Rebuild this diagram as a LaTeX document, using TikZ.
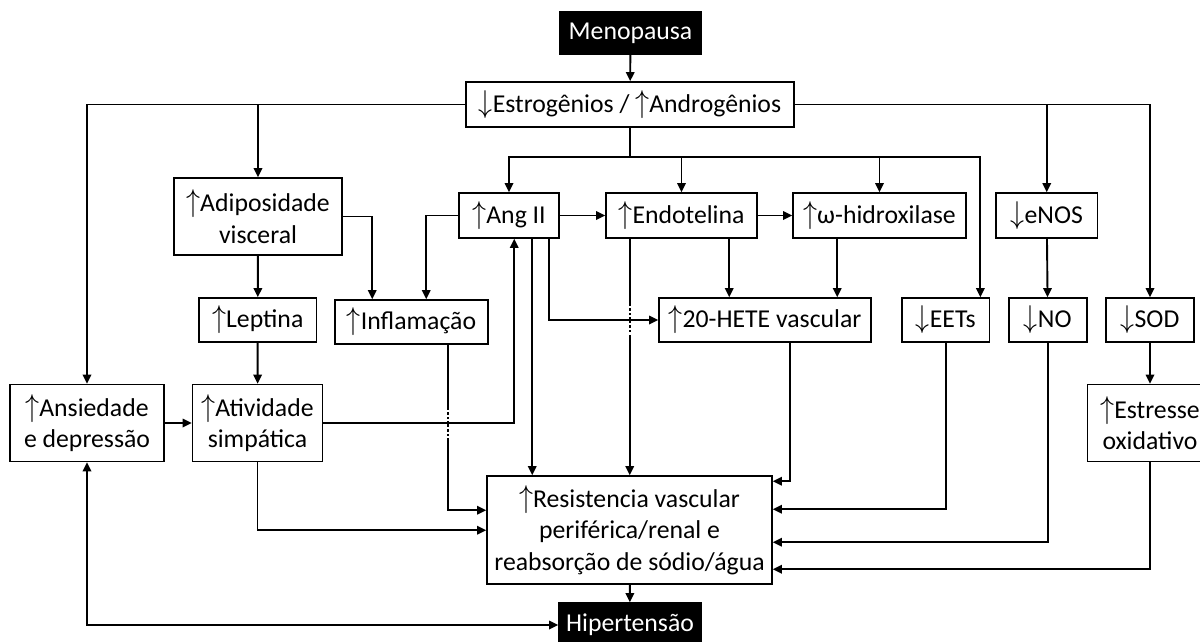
\documentclass[tikz,border=0pt]{standalone}
\usepackage{fontspec}
\setmainfont{Carlito}
\usetikzlibrary{arrows.meta,calc}
\newcommand{\myup}{\scalebox{1.15}[1.3]{$\uparrow$}}
\newcommand{\mydn}{\scalebox{1.15}[1.3]{$\downarrow$}}
\begin{document}
\begin{tikzpicture}[x=0.025cm,y=-0.025cm,
  box/.style={draw, line width=1.1pt, align=center, inner sep=1pt, font=\fontsize{18.3}{22.5}\selectfont},
  dark/.style={box, fill=black, text=white},
  sz/.style 2 args={minimum width=#1*0.025cm, minimum height=#2*0.025cm},
  ln/.style={line width=1.35pt},
  arr/.style={line width=1.35pt, -{Triangle[length=6.5pt,width=6pt]}},
  dbl/.style={line width=1.35pt, {Triangle[length=6.5pt,width=6pt]}-{Triangle[length=6.5pt,width=6pt]}},
  hop/.style={white, line width=1.8pt, dash pattern=on 1.6pt off 1.8pt}
]
\useasboundingbox (0,0) rectangle (1200,641);
\clip (0,0) rectangle (1200,641);

% nodes
\node[dark, sz={141}{42}] (meno) at (630.5,33) {Menopausa};
\node[box, sz={328}{45}] (estr) at (630,104.5) {\mydn Estrogênios / \myup Androgênios};
\node[box, sz={168}{77}] (adip) at (258,216.5) {\myup Adiposidade\\visceral};
\node[box, sz={100}{45}] (ang) at (509,215.5) {\myup Ang II};
\node[box, sz={151}{45}] (endo) at (681.5,215.5) {\myup Endotelina};
\node[box, sz={173}{45}] (omega) at (879.5,215.5) {\myup ω-hidroxilase};
\node[box, sz={101.5}{45}] (enos) at (1046.75,215.5) {\mydn eNOS};
\node[box, sz={117.5}{44}] (lept) at (257.75,320) {\myup Leptina};
\node[box, sz={153}{44}] (infl) at (411.5,322) {\myup Inflamação};
\node[box, sz={212}{44}] (hete) at (765,320) {\myup 20-HETE vascular};
\node[box, sz={87.6}{44}] (eets) at (945.8,320) {\mydn EETs};
\node[box, sz={78}{44}] (no) at (1047.75,320) {\mydn NO};
\node[box, sz={88}{44}] (sod) at (1150,320) {\mydn SOD};
\node[box, sz={154}{77}] (ansi) at (87,423) {\myup Ansiedade\\e depressão};
\node[box, sz={130}{77}] (ativ) at (257.5,423) {\myup Atividade\\simpática};
\node[box, sz={125}{77}] (estress) at (1150,423) {\myup Estresse\\oxidativo};
\node[box, sz={285}{108}] (resis) at (629.5,530) {\myup Resistencia vascular\\periférica/renal e\\reabsorção de sódio/água};
\node[dark, sz={142}{44}] (hiper) at (630,625) {Hipertensão};

% top
\draw[arr] (meno) -- (estr);
\draw[arr] (estr.west) -| (ansi.north);
\draw[arr] (estr.west -| adip.north) -- (adip.north);
\draw[arr] (estr.east) -| (sod.north);
\draw[arr] (estr.east -| enos.north) -- (enos.north);

% bus
\coordinate (bus) at (630,157);
\draw[ln] (estr.south) -- (bus);
\draw[arr] (bus) -| (ang.north);
\draw[arr] (bus) -| ($(eets.north east)+(-10,0)$);
\draw[arr] (bus -| endo.north) -- (endo.north);
\draw[arr] (bus -| omega.north) -- (omega.north);

% left column
\draw[arr] (adip.east) -| ($(infl.north west)+(38,0)$);
\draw[arr] (ang.west) -| ($(infl.north west)+(92,0)$);
\draw[arr] (adip) -- (lept);
\draw[arr] (lept) -- (ativ);
\draw[arr] (ansi) -- (ativ);

% middle
\draw[arr] (ang) -- (endo);
\draw[arr] (endo) -- (omega);
\draw[arr] ($(endo.south west)+(124,0)$) -- ($(hete.north west)+(71,0)$);
\draw[arr] ($(omega.south west)+(45,0)$) -- ($(hete.north west)+(179,0)$);
\draw[arr] ($(ang.south west)+(74,0)$) coordinate (a1) -- (a1 |- resis.north);
\draw[arr] ($(endo.south west)+(24.5,0)$) coordinate (e1) -- (e1 |- resis.north);

% into resistencia from left
\draw[arr] ($(infl.south west)+(113.5,0)$) coordinate (i1) |- ($(resis.north west)+(0,35)$);
\draw[arr] (ativ.south) |- ($(resis.north west)+(0,55)$);

% line hops (vertical lines broken where horizontal ones cross)
\draw[hop] ($(e1)+(0,67)$) -- ($(e1)+(0,78)$);
\draw[hop] ($(e1)+(0,84)$) -- ($(e1)+(0,97)$);
\draw[hop] ($(i1)+(0,65)$) -- ($(i1)+(0,76)$);
\draw[hop] ($(i1)+(0,82)$) -- ($(i1)+(0,93)$);

% horizontals crossing the hops
\draw[arr] ($(ang.south west)+(91,0)$) |- (hete.west);
\draw[arr] (ativ.east) -| ($(ang.south west)+(56,0)$);

% into resistencia from right
\draw[arr] ($(hete.south west)+(132,0)$) |- ($(resis.north east)+(0,6)$);
\draw[arr] (eets.south) |- ($(resis.north east)+(0,34)$);
\draw[arr] (enos) -- (no);
\draw[arr] (no.south) |- ($(resis.north east)+(0,67)$);
\draw[arr] (sod) -- (estress);
\draw[arr] (estress.south) |- ($(resis.north east)+(0,94)$);

% bottom
\draw[arr] (resis) -- (hiper);
\draw[dbl] (ansi.south) |- (hiper.west);
\end{tikzpicture}
\end{document}
